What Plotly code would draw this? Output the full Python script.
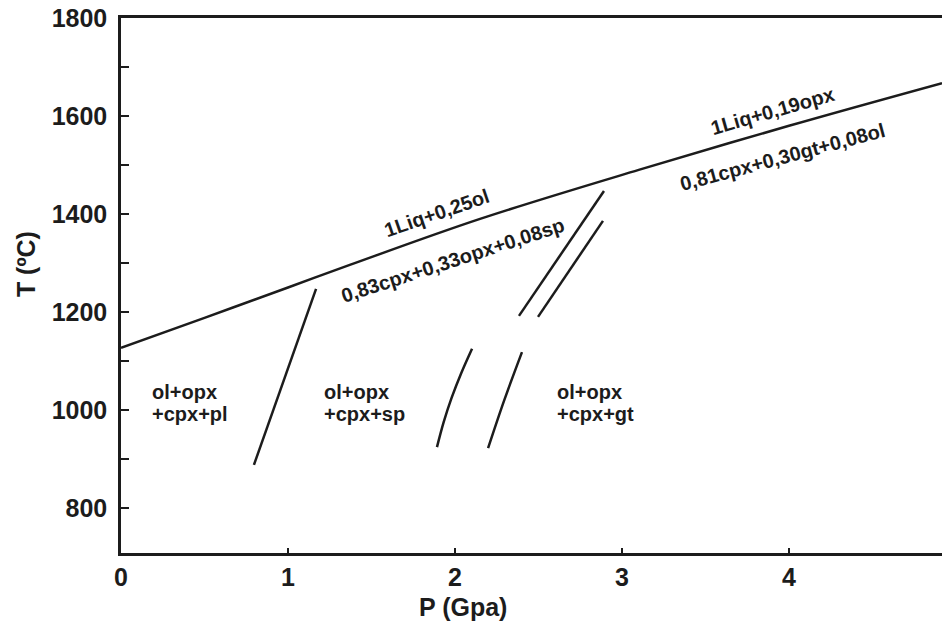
import plotly.graph_objects as go

# ---- data ----
solidus_P = [0.0, 0.5, 1.0, 1.37, 2.15, 3.1, 4.0, 4.916]
solidus_T = [1127, 1188, 1250, 1296, 1390, 1490, 1580, 1667]

plsp_P = [0.796, 1.168]
plsp_T = [888, 1247]

spgt_left_P = [1.892, 1.932, 1.980, 2.037, 2.102]
spgt_left_T = [924, 975, 1025, 1075, 1125]

spgt_right_P = [2.198, 2.295, 2.401]
spgt_right_T = [922, 1020, 1118]

upperA_P = [2.383, 2.892]
upperA_T = [1192, 1447]
upperB_P = [2.497, 2.886]
upperB_T = [1190, 1386]

x_ticks = [0, 1, 2, 3, 4]
y_ticks = [800, 1000, 1200, 1400, 1600, 1800]

region_labels = [
    (0.174, "ol+opx", "+cpx+pl"),
    (1.204, "ol+opx", "+cpx+sp"),
    (2.599, "ol+opx", "+cpx+gt"),
]
reaction_labels = [
    (1.89, 1402, "1Liq+0,25ol", -19),
    (1.99, 1306, "0,83cpx+0,33opx+0,08sp", -18),
    (3.90, 1610, "1Liq+0,19opx", -16),
    (3.96, 1516, "0,81cpx+0,30gt+0,08ol", -15),
]

INK = "#1c1c1c"
FONT = "Liberation Sans, Arial, sans-serif"

fig = go.Figure()
for xs, ys, shape in [
    (solidus_P, solidus_T, "spline"),
    (plsp_P, plsp_T, "linear"),
    (spgt_left_P, spgt_left_T, "spline"),
    (spgt_right_P, spgt_right_T, "spline"),
    (upperA_P, upperA_T, "linear"),
    (upperB_P, upperB_T, "linear"),
]:
    fig.add_trace(go.Scatter(x=xs, y=ys, mode="lines",
                             line=dict(color=INK, width=2.5, shape=shape),
                             showlegend=False, hoverinfo="skip"))

annotations = []
for px, l1, l2 in region_labels:
    annotations.append(dict(x=px, y=1037, text=l1, showarrow=False, xanchor="left",
                            yanchor="middle", font=dict(size=20, family=FONT, color=INK, weight="bold")))
    annotations.append(dict(x=px, y=992, text=l2, showarrow=False, xanchor="left",
                            yanchor="middle", font=dict(size=20, family=FONT, color=INK, weight="bold")))
for px, ty, txt, ang in reaction_labels:
    annotations.append(dict(x=px, y=ty, text=txt, showarrow=False, textangle=ang,
                            xanchor="center", yanchor="middle",
                            font=dict(size=20, family=FONT, color=INK, weight="bold")))

annotations.append(dict(xref="paper", yref="paper", x=0.4166, y=-0.101, text="P (Gpa)",
                        showarrow=False, xanchor="center", yanchor="middle",
                        font=dict(size=25, family=FONT, color=INK, weight="bold")))
annotations.append(dict(xref="paper", yref="paper", x=-0.1157, y=0.54, text="T (ºC)",
                        showarrow=False, xanchor="center", yanchor="middle", textangle=-90,
                        font=dict(size=25, family=FONT, color=INK, weight="bold")))

fig.update_layout(
    width=942, height=625,
    margin=dict(l=121, r=0, t=18, b=72),
    paper_bgcolor="white", plot_bgcolor="white",
    annotations=annotations,
    showlegend=False,
)
fig.update_xaxes(range=[0, 4.916], tickvals=x_ticks, ticks="inside", ticklen=5, tickwidth=2,
                 tickcolor=INK, showline=True, linecolor=INK, linewidth=2.5, mirror=True,
                 showgrid=False, zeroline=False,
                 tickfont=dict(size=25, family=FONT, color=INK, weight="bold"))
fig.update_yaxes(range=[708, 1800], tickvals=y_ticks, ticks="inside", ticklen=8, tickwidth=2,
                 tickcolor=INK, showline=True, linecolor=INK, linewidth=2.5,
                 showgrid=False, zeroline=False, ticklabelstandoff=6,
                 minor=dict(dtick=100, tick0=0, ticks="inside", ticklen=8, tickwidth=2, tickcolor=INK, showgrid=False),
                 tickfont=dict(size=25, family=FONT, color=INK, weight="bold"))

fig.write_html("out.html")
